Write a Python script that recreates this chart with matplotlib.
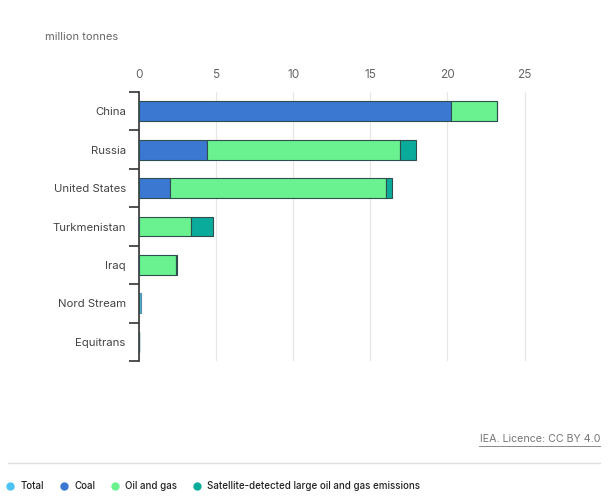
import matplotlib.pyplot as plt
from matplotlib.lines import Line2D
import numpy as np

plt.rcParams['font.family'] = ['Inter', 'DejaVu Sans']

countries = ['China', 'Russia', 'United States', 'Turkmenistan', 'Iraq', 'Nord Stream', 'Equitrans']
total = [0, 0, 0, 0, 0, 0.15, 0.02]
coal = [20.2, 4.4, 2.0, 0, 0, 0, 0]
oil_gas = [3.0, 12.5, 14.0, 3.4, 2.4, 0, 0]
satellite = [0, 1.05, 0.4, 1.4, 0.05, 0, 0]

colors = {
    'Total': '#4dc3f5',
    'Coal': '#3b78d1',
    'Oil and gas': '#6af291',
    'Satellite-detected large oil and gas emissions': '#0aab9b',
}

fig = plt.figure(figsize=(6.1, 4.98), dpi=100)
ax = fig.add_axes([139 / 610, 1 - 361 / 498, 401 / 610, 269 / 498])

y = np.arange(len(countries))
edge = '#2f4f4f'
ax.barh(y, total, height=0.52, color=colors['Total'], edgecolor='#5a8fa8', linewidth=0.8, zorder=3)
ax.barh(y, coal, height=0.52, color=colors['Coal'], edgecolor=edge, linewidth=0.8, zorder=3)
left = np.array(coal)
ax.barh(y, oil_gas, left=left, height=0.52, color=colors['Oil and gas'], edgecolor=edge, linewidth=0.8, zorder=3)
left = left + np.array(oil_gas)
ax.barh(y, satellite, left=left, height=0.52, color=colors['Satellite-detected large oil and gas emissions'],
        edgecolor=edge, linewidth=0.8, zorder=3)

ax.set_ylim(len(countries) - 0.5, -0.5)
ax.set_xlim(0, 26)
ax.set_xticks([0, 5, 10, 15, 20, 25])
ax.xaxis.tick_top()
ax.tick_params(axis='x', length=0, pad=8, labelsize=8.5, labelcolor='#666666')
ax.grid(axis='x', color='#e6e6e6', linewidth=0.8, zorder=0)

ax.set_yticks(y)
ax.set_yticklabels(countries)
ax.tick_params(axis='y', length=0, pad=9.5, labelsize=8.2, labelcolor='#444444')
# boundary ticks on the left axis
ax.set_yticks(np.arange(-0.5, len(countries), 1.0), minor=True)
ax.tick_params(axis='y', which='minor', length=7, width=1.2, color='#333333')

for s in ['top', 'right', 'bottom']:
    ax.spines[s].set_visible(False)
ax.spines['left'].set_color('#333333')
ax.spines['left'].set_linewidth(1.2)

fig.text(45 / 610, 1 - 37 / 498, 'million tonnes', fontsize=8, color='#666666', va='center')

fig.text(600 / 610, 1 - 439 / 498, 'IEA. Licence: CC BY 4.0', fontsize=7.7, color='#777777',
         ha='right', va='center')
fig.add_artist(Line2D([479 / 610, 600 / 610], [1 - 446 / 498, 1 - 446 / 498], color='#777777', linewidth=0.6))
fig.add_artist(Line2D([8 / 610, 600 / 610], [1 - 463 / 498, 1 - 463 / 498], color='#e0e0e0', linewidth=1))

handles = [Line2D([], [], marker='o', linestyle='', markersize=5, color=c, label=k) for k, c in colors.items()]
leg = fig.legend(handles=handles, loc='center left', bbox_to_anchor=(5 / 610, 1 - 486 / 498), ncol=4,
                 frameon=False, fontsize=7, handletextpad=0.6, columnspacing=1.5, borderaxespad=0,
                 borderpad=0, handlelength=1)
for txt in leg.get_texts():
    txt.set_color('#222222')
    txt.set_fontweight('medium')

fig.savefig('out.png', dpi=100)
